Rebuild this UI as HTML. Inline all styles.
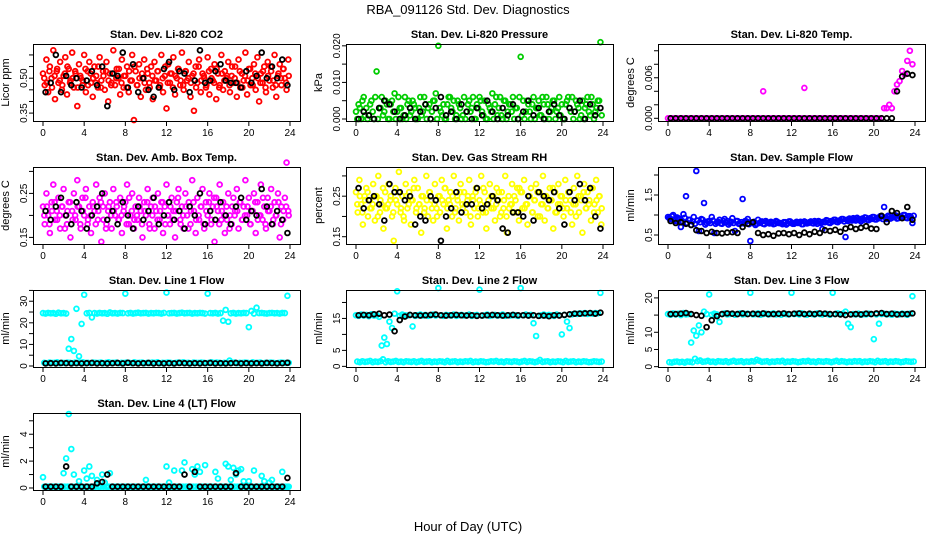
<!DOCTYPE html>
<html><head><meta charset="utf-8"><style>
body{margin:0;background:#fff;}
svg{display:block;font-family:"Liberation Sans",sans-serif;}
</style></head><body>
<svg id="chart" width="936" height="540" viewBox="0 0 936 540">
<rect width="936" height="540" fill="#fff"/>
<text x="468" y="14" text-anchor="middle" font-size="13">RBA_091126  Std. Dev. Diagnostics</text>
<text x="468" y="531" text-anchor="middle" font-size="13">Hour of Day (UTC)</text>
</svg>
<script>
const xTicks = [0,4,8,12,16,20,24];
const co2Color = [0.52,0.47,0.58,0.44,0.55,0.50,0.62,0.41,0.53,0.48,0.57,0.45,0.51,0.59,0.43,0.54,0.49,0.61,0.46,0.52,0.38,0.56,0.50,0.47,0.60,0.44,0.53,0.57,0.48,0.42,0.55,0.51,0.46,0.59,0.49,0.53,0.45,0.57,0.40,0.52,0.48,0.62,0.47,0.54,0.50,0.43,0.58,0.46,0.51,0.55,0.44,0.49,0.60,0.32,0.53,0.47,0.56,0.42,0.50,0.58,0.45,0.52,0.48,0.55,0.41,0.57,0.49,0.53,0.46,0.60,0.44,0.51,0.37,0.56,0.48,0.52,0.59,0.43,0.50,0.54,0.47,0.61,0.45,0.53,0.49,0.57,0.42,0.51,0.36,0.55,0.48,0.58,0.44,0.52,0.50,0.46,0.59,0.43,0.54,0.49,0.56,0.41,0.52,0.47,0.60,0.45,0.53,0.50,0.57,0.44,0.51,0.48,0.55,0.42,0.58,0.46,0.52,0.49,0.61,0.43,0.54,0.47,0.50,0.56,0.45,0.59,0.40,0.52,0.48,0.55,0.44,0.57,0.49,0.53,0.46,0.60,0.42,0.51,0.56,0.47,0.54,0.50,0.45,0.58];
const co2Core = [0.50,0.48,0.53,0.46,0.51,0.54,0.49,0.47,0.52,0.55,0.48,0.50,0.53,0.46,0.51,0.49,0.54,0.47,0.52,0.50,0.48,0.55,0.46,0.51,0.53,0.49,0.47,0.52,0.50,0.54,0.48,0.51,0.46,0.53,0.49,0.55,0.47,0.50,0.52,0.48,0.54,0.46,0.51,0.49,0.53,0.47,0.50,0.55,0.48,0.52,0.46,0.51,0.54,0.49,0.47,0.53,0.50,0.48,0.52,0.46,0.55,0.49,0.51,0.47,0.53,0.50,0.48,0.54,0.46,0.52,0.49,0.51,0.47,0.55,0.50,0.48,0.53,0.46,0.51,0.49,0.54,0.47,0.52,0.50,0.48,0.53,0.46,0.51,0.55,0.49,0.47,0.52,0.50,0.54,0.48,0.51];
const co2Black = [0.44,0.48,0.60,0.44,0.51,0.47,0.50,0.46,0.49,0.53,0.47,0.55,0.38,0.52,0.51,0.61,0.46,0.56,0.44,0.50,0.45,0.42,0.46,0.54,0.57,0.45,0.53,0.52,0.44,0.49,0.62,0.48,0.49,0.53,0.56,0.49,0.48,0.48,0.46,0.53,0.48,0.51,0.61,0.50,0.55,0.50,0.58,0.47];
const presColor = [0.002,0.004,0.000,0.006,0.003,0.001,0.005,0.000,0.013,0.003,0.006,0.002,0.004,0.000,0.005,0.007,0.002,0.003,0.000,0.006,0.004,0.001,0.005,0.003,0.000,0.006,0.002,0.004,0.003,0.000,0.005,0.007,0.020,0.002,0.004,0.000,0.006,0.003,0.005,0.001,0.004,0.000,0.006,0.002,0.005,0.003,0.000,0.004,0.006,0.002,0.005,0.000,0.003,0.007,0.004,0.001,0.006,0.000,0.005,0.002,0.004,0.006,0.003,0.000,0.017,0.005,0.002,0.004,0.000,0.006,0.003,0.005,0.001,0.004,0.006,0.000,0.003,0.005,0.002,0.006,0.004,0.000,0.005,0.003,0.006,0.002,0.004,0.000,0.005,0.003,0.006,0.001,0.004,0.002,0.005,0.021];
const presCore = [0.000,0.003,0.005,0.001,0.000,0.004,0.002,0.006,0.000,0.003,0.001,0.005,0.000,0.004,0.002,0.000,0.006,0.003,0.001,0.000,0.005,0.002,0.004,0.000,0.003,0.001,0.006,0.000,0.004,0.002,0.005,0.000,0.003,0.001,0.000,0.004,0.006,0.002,0.000,0.005,0.003,0.001,0.000,0.004,0.002,0.006,0.000,0.003,0.005,0.001,0.000,0.004,0.002,0.000,0.006,0.003,0.001,0.005,0.000,0.004,0.002,0.000,0.003,0.006,0.001,0.000,0.005,0.002,0.004,0.000,0.003,0.001,0.006,0.000,0.004,0.002,0.005,0.000,0.003,0.001,0.000,0.004,0.006,0.002,0.000,0.005,0.003,0.001,0.000,0.004,0.002,0.006,0.000,0.003,0.005,0.001];
const presBlack = [0.000,0.002,0.001,0.000,0.003,0.005,0.004,0.002,0.000,0.001,0.003,0.000,0.002,0.004,0.000,0.003,0.006,0.001,0.002,0.000,0.004,0.002,0.000,0.003,0.001,0.005,0.002,0.000,0.003,0.001,0.004,0.000,0.002,0.005,0.001,0.003,0.000,0.002,0.004,0.001,0.000,0.003,0.002,0.005,0.000,0.004,0.001,0.003];
const tempColor = [0,0,0,0,0,0,0,0,0,0,0,0,0,0,0,0,0,0,0,0,0,0,0,0,0,0,0,0,0,0,0,0,0,0,0,0,0,0.004,0,0,0,0,0,0,0,0,0,0,0,0,0,0,0,0.0045,0,0,0,0,0,0,0,0,0,0,0,0,0,0,0,0,0,0,0,0,0,0,0,0,0,0,0,0,0,0,0.0015,0.0015,0.002,0.0015,0.004,0.005,0.0055,0.007,0.0065,0.0085,0.010,0.008];
const tempBlack = [0,0,0,0,0,0,0,0,0,0,0,0,0,0,0,0,0,0,0,0,0,0,0,0,0,0,0,0,0,0,0,0,0,0,0,0,0,0,0,0,0,0,0,0,0.004,0.0062,0.0066,0.0064];
const ambColor = [0.22,0.18,0.25,0.20,0.16,0.23,0.27,0.19,0.21,0.24,0.17,0.22,0.26,0.20,0.18,0.23,0.15,0.21,0.25,0.19,0.28,0.22,0.17,0.24,0.20,0.26,0.18,0.22,0.16,0.23,0.21,0.27,0.19,0.24,0.14,0.22,0.25,0.18,0.21,0.23,0.17,0.26,0.20,0.22,0.19,0.24,0.16,0.21,0.23,0.27,0.18,0.20,0.25,0.17,0.22,0.19,0.24,0.21,0.15,0.23,0.20,0.26,0.18,0.22,0.24,0.17,0.21,0.25,0.19,0.23,0.16,0.22,0.27,0.20,0.18,0.24,0.21,0.15,0.23,0.26,0.19,0.22,0.17,0.25,0.20,0.23,0.18,0.28,0.21,0.16,0.24,0.19,0.22,0.26,0.17,0.23,0.20,0.25,0.18,0.22,0.14,0.24,0.21,0.27,0.19,0.23,0.16,0.22,0.25,0.20,0.18,0.24,0.21,0.26,0.17,0.23,0.19,0.22,0.28,0.20,0.24,0.18,0.21,0.25,0.16,0.23,0.20,0.27,0.19,0.22,0.17,0.24,0.21,0.26,0.18,0.23,0.20,0.25,0.15,0.22,0.19,0.24,0.32,0.21];
const ambCore = [0.20,0.22,0.18,0.21,0.23,0.19,0.20,0.22,0.17,0.21,0.23,0.19,0.20,0.22,0.18,0.21,0.24,0.19,0.20,0.22,0.18,0.21,0.23,0.19,0.17,0.22,0.20,0.21,0.23,0.19,0.20,0.22,0.18,0.24,0.21,0.19,0.20,0.22,0.18,0.21,0.23,0.17,0.20,0.22,0.19,0.21,0.23,0.18,0.20,0.22,0.19,0.21,0.24,0.18,0.20,0.22,0.17,0.21,0.23,0.19,0.20,0.22,0.18,0.21,0.23,0.19,0.24,0.22,0.18,0.21,0.20,0.19,0.17,0.22,0.20,0.21,0.23,0.19,0.20,0.22,0.18,0.21,0.23,0.19,0.20,0.24,0.18,0.21,0.22,0.19,0.20,0.23,0.18,0.21,0.22,0.20];
const ambBlack = [0.21,0.19,0.22,0.24,0.20,0.18,0.23,0.21,0.17,0.20,0.22,0.25,0.19,0.21,0.18,0.23,0.20,0.17,0.22,0.19,0.21,0.24,0.18,0.20,0.23,0.19,0.21,0.17,0.22,0.20,0.25,0.18,0.21,0.19,0.23,0.20,0.18,0.22,0.24,0.19,0.21,0.20,0.26,0.22,0.18,0.21,0.19,0.16];
const rhColor = [0.26,0.21,0.29,0.23,0.18,0.25,0.27,0.20,0.24,0.22,0.28,0.19,0.25,0.30,0.21,0.23,0.17,0.26,0.22,0.28,0.24,0.20,0.14,0.27,0.23,0.31,0.21,0.25,0.19,0.28,0.22,0.26,0.18,0.24,0.29,0.21,0.27,0.23,0.16,0.25,0.22,0.30,0.20,0.26,0.24,0.19,0.28,0.22,0.25,0.21,0.29,0.23,0.27,0.17,0.24,0.26,0.20,0.30,0.22,0.25,0.19,0.28,0.23,0.26,0.21,0.24,0.29,0.18,0.25,0.22,0.27,0.20,0.24,0.30,0.21,0.26,0.17,0.23,0.28,0.22,0.25,0.19,0.27,0.24,0.20,0.26,0.22,0.30,0.16,0.25,0.23,0.28,0.21,0.24,0.27,0.19,0.26,0.22,0.29,0.23,0.18,0.25,0.27,0.21,0.24,0.28,0.20,0.26,0.23,0.30,0.19,0.25,0.22,0.27,0.24,0.17,0.26,0.21,0.28,0.23,0.25,0.20,0.29,0.22,0.26,0.24,0.18,0.27,0.23,0.30,0.21,0.25,0.16,0.28,0.22,0.26,0.24,0.19,0.27,0.23,0.29,0.21,0.25,0.18];
const rhCore = [0.23,0.25,0.21,0.24,0.26,0.22,0.23,0.25,0.20,0.24,0.27,0.22,0.23,0.25,0.21,0.24,0.26,0.22,0.20,0.25,0.23,0.24,0.27,0.22,0.23,0.25,0.21,0.24,0.26,0.22,0.23,0.20,0.25,0.24,0.27,0.22,0.23,0.25,0.21,0.24,0.26,0.22,0.23,0.25,0.20,0.24,0.26,0.22,0.23,0.27,0.21,0.24,0.25,0.22,0.23,0.26,0.21,0.24,0.20,0.22,0.23,0.25,0.21,0.27,0.26,0.22,0.23,0.25,0.21,0.24,0.26,0.20,0.23,0.25,0.22,0.24,0.27,0.21,0.23,0.25,0.22,0.24,0.26,0.21,0.23,0.20,0.25,0.24,0.26,0.22,0.23,0.27,0.21,0.24,0.25,0.22];
const rhBlack = [0.27,0.22,0.24,0.25,0.23,0.19,0.28,0.26,0.26,0.24,0.25,0.18,0.20,0.19,0.25,0.24,0.14,0.20,0.22,0.26,0.21,0.23,0.23,0.27,0.22,0.23,0.25,0.24,0.17,0.16,0.21,0.21,0.20,0.25,0.19,0.26,0.25,0.24,0.26,0.22,0.18,0.26,0.24,0.28,0.24,0.27,0.20,0.17];
const flowColor = [0.95,0.90,1.00,0.85,0.92,0.70,1.02,1.47,0.88,0.75,0.95,2.10,0.60,0.90,1.30,0.80,0.85,0.95,0.55,0.82,0.88,0.78,0.90,0.85,0.80,0.92,0.60,0.85,0.78,1.40,0.85,0.90,0.35,0.80,0.75,0.88,0.82,0.78,0.85,0.80,0.83,0.77,0.85,0.80,0.79,0.82,0.76,0.84,0.80,0.78,0.83,0.81,0.77,0.84,0.79,0.82,0.80,0.85,0.78,0.83,0.65,0.82,0.86,0.80,0.84,0.88,0.82,0.86,0.90,0.45,0.85,0.88,0.92,0.86,0.90,0.84,0.88,0.93,0.87,0.90,0.95,0.89,0.92,0.96,1.20,0.90,0.95,0.93,0.98,0.91,0.96,0.94,1.00,0.92,0.97,0.80];
const flowCore = [0.92,0.97,0.88,0.94,0.90,0.85,0.93,0.80,0.88,0.84,0.78,0.86,0.82,0.88,0.76,0.84,0.80,0.86,0.78,0.83,0.79,0.85,0.81,0.76,0.83,0.80,0.85,0.78,0.82,0.79,0.84,0.77,0.81,0.83,0.78,0.80,0.84,0.77,0.82,0.79,0.81,0.78,0.83,0.80,0.77,0.82,0.79,0.84,0.78,0.81,0.80,0.83,0.77,0.82,0.80,0.84,0.79,0.82,0.85,0.80,0.83,0.87,0.81,0.85,0.88,0.83,0.86,0.90,0.84,0.88,0.91,0.86,0.89,0.93,0.87,0.91,0.94,0.88,0.92,0.95,0.89,0.93,0.97,0.90,0.94,0.98,0.91,0.95,0.99,0.92,0.96,1.00,0.93,0.97,0.94,0.98];
const flowBlack = [0.85,0.80,0.82,0.78,0.75,0.62,0.60,0.55,0.58,0.55,0.54,0.56,0.57,0.55,0.70,0.78,0.82,0.55,0.50,0.52,0.48,0.54,0.55,0.52,0.55,0.50,0.56,0.52,0.58,0.55,0.62,0.60,0.63,0.58,0.66,0.70,0.65,0.68,0.72,0.66,0.65,0.98,0.82,1.10,1.05,0.92,1.20,0.88];
const line1Color = [24.5,24.3,24.6,24.4,24.5,24.2,24.7,24.4,24.5,24.3,8.0,12.5,7.0,26.5,4.5,19.5,33.0,24.4,24.6,22.5,24.5,24.3,24.6,24.4,24.5,24.2,24.8,24.4,24.5,24.3,24.6,24.5,33.5,24.4,24.6,24.3,24.5,24.7,24.4,24.5,24.6,24.3,24.5,24.4,24.6,24.5,24.3,24.6,34.0,24.4,24.5,24.6,24.3,24.5,24.7,24.4,24.5,24.6,24.3,24.5,24.4,24.6,24.5,24.3,33.5,24.5,24.4,24.6,24.3,24.5,21.0,26.0,20.5,24.4,24.6,24.3,24.5,24.4,24.6,24.5,18.0,25.5,24.3,27.0,24.5,24.6,24.4,24.3,24.5,24.6,24.4,24.5,24.3,24.6,24.5,32.5];
const line1Low = [1.5,1.3,1.6,1.4,1.5,1.7,1.3,1.5,1.4,1.6,1.5,1.3,1.6,1.4,1.5,1.7,1.4,1.5,1.3,1.6,1.5,1.4,1.6,1.3,1.5,1.7,1.4,1.5,1.6,1.3,1.5,1.4,1.6,1.5,1.3,1.7,1.4,1.5,1.6,1.3,1.5,1.4,1.6,1.5,1.7,1.3,1.5,1.4,1.6,1.5,1.3,1.4,1.6,1.5,1.7,1.4,1.5,1.3,1.6,1.5,1.4,1.6,1.5,1.3,1.5,1.7,1.4,1.6,1.5,1.3,1.5,1.4,2.5,1.5,1.6,1.3,1.5,1.4,1.6,1.5,1.3,1.7,1.4,1.5,1.6,1.3,1.5,1.4,1.6,1.5,1.3,1.4,1.6,1.5,1.4,1.5];
const line1Black = [1.2,1.3,1.2,1.4,1.3,1.2,1.3,1.2,1.3,1.4,1.2,1.3,1.2,1.3,1.4,1.2,1.5,1.3,1.2,1.3,1.4,1.2,1.3,1.2,1.3,1.2,1.4,1.3,1.2,1.3,1.2,1.3,1.4,1.2,1.3,1.2,1.3,1.4,1.2,1.3,1.2,1.3,1.2,1.4,1.3,1.2,1.3,1.5];
const line2Color = [16.0,15.8,16.2,15.9,16.1,15.7,16.3,15.9,16.0,15.5,6.5,9.0,7.0,14.0,12.0,16.5,23.5,15.8,16.2,16.0,15.9,16.1,12.5,15.8,16.0,16.2,15.9,16.1,15.8,16.0,16.2,15.9,24.5,16.0,15.8,16.1,16.0,15.9,16.2,15.8,16.0,16.1,15.9,16.0,16.2,15.8,16.0,16.1,24.0,15.9,16.0,16.2,15.8,16.0,16.1,15.9,16.0,16.2,15.8,16.0,15.9,16.1,16.0,15.8,24.5,16.0,16.2,15.9,16.1,13.5,9.5,15.8,16.0,16.2,15.9,16.1,16.0,15.8,16.2,16.0,10.0,16.1,14.0,12.0,16.3,16.5,16.4,16.6,16.5,16.7,16.4,16.6,16.5,16.7,16.6,23.0];
const line2Low = [1.5,1.3,1.6,1.4,1.5,1.7,1.3,1.5,1.4,1.6,2.2,1.3,1.6,1.4,1.5,1.7,1.4,1.5,1.3,1.6,1.5,1.4,1.6,1.3,1.5,1.7,1.4,1.5,1.6,1.3,1.5,1.4,1.6,1.5,1.3,1.7,1.4,1.5,1.6,1.3,1.5,1.4,1.6,1.5,1.7,1.3,1.5,1.4,1.6,1.5,1.3,1.4,1.6,1.5,1.7,1.4,1.5,1.3,1.6,1.5,1.4,1.6,1.5,1.3,1.5,1.7,1.4,1.6,1.5,1.3,1.5,2.0,1.4,1.5,1.6,1.3,1.5,1.4,1.6,1.5,1.3,1.7,1.4,1.5,1.6,1.3,1.5,1.4,1.6,1.5,1.3,1.4,1.6,1.5,1.4,1.5];
const line2Black = [16.0,16.1,16.0,16.3,16.5,16.0,16.2,11.0,14.5,15.6,16.1,16.0,15.9,16.0,16.1,16.2,16.0,15.9,16.0,16.1,16.0,15.9,16.0,15.8,15.9,16.0,16.1,16.0,15.9,16.0,16.1,16.0,16.0,15.9,16.0,15.8,15.9,15.7,16.0,15.9,16.1,16.3,16.5,16.5,16.6,16.7,16.5,16.8];
const line3Color = [15.3,15.1,15.5,15.2,15.4,15.0,15.6,15.2,15.3,7.0,10.5,9.0,12.0,10.0,16.0,15.3,21.0,15.1,15.4,15.2,13.0,15.3,15.5,15.2,15.3,15.4,15.1,15.3,15.5,15.2,15.3,15.4,21.5,15.2,15.3,15.5,15.1,15.3,15.4,15.2,15.3,15.5,15.2,15.3,15.1,15.4,15.3,15.2,21.5,15.3,15.4,15.2,15.5,15.3,15.1,15.4,15.3,15.2,15.5,15.3,15.2,15.4,15.3,15.1,21.5,15.3,15.5,15.2,15.4,16.0,12.5,11.5,15.3,15.2,15.4,15.1,15.3,15.2,15.4,15.3,8.0,15.2,12.5,15.3,15.4,15.2,15.3,15.1,15.4,15.3,15.2,15.4,15.3,15.1,15.4,20.5];
const line3Low = [1.3,1.2,1.4,1.5,1.3,1.4,1.2,1.5,1.4,1.3,2.3,1.6,1.8,1.4,1.5,1.7,1.4,1.5,1.3,1.6,1.5,1.4,1.6,1.3,1.5,1.7,1.4,1.5,1.6,1.3,1.5,1.4,1.6,1.5,2.0,1.7,1.4,1.5,1.6,1.3,1.5,1.4,1.6,1.5,1.7,1.3,1.5,1.4,1.6,1.5,1.3,1.4,1.6,1.5,1.7,1.4,1.5,1.3,1.6,1.5,1.4,1.6,1.5,1.3,1.5,1.7,1.4,1.6,1.5,1.3,1.5,1.4,1.6,1.5,1.6,1.3,1.5,1.4,1.6,1.5,1.3,1.7,1.4,1.5,1.6,1.3,1.5,1.4,1.6,1.5,1.3,1.4,1.6,1.5,1.4,1.5];
const line3Black = [15.3,15.3,15.4,15.6,15.3,15.0,14.8,11.5,13.5,14.7,15.3,15.5,15.4,15.3,15.5,15.3,15.4,15.3,15.5,15.3,15.3,15.4,15.5,15.3,15.4,15.5,15.3,15.4,15.3,15.5,15.4,15.3,15.3,15.2,15.0,15.2,15.3,15.2,15.4,15.3,15.5,15.6,15.3,15.4,15.2,15.3,15.3,15.5];
const line4Color = [0.8,0.1,0.1,0.1,0.1,0.1,0.1,0.1,1.1,2.2,5.5,2.9,1.0,0.1,0.5,0.1,1.3,0.7,1.6,0.9,0.1,0.6,0.1,1.0,0.4,0.1,1.1,0.1,0.1,0.1,0.1,0.1,0.1,0.1,0.1,0.1,0.1,0.1,0.1,0.1,0.6,0.1,0.1,0.1,0.1,0.1,0.1,0.1,1.6,0.4,0.1,1.3,0.1,0.1,1.3,1.9,0.1,0.1,1.4,1.0,1.6,1.2,0.1,1.7,0.1,0.1,0.1,1.2,0.7,0.1,0.1,1.8,1.6,0.6,1.5,1.0,1.3,1.4,0.5,0.1,0.5,0.1,1.3,0.1,0.1,0.9,0.5,0.1,0.4,0.6,0.1,0.1,0.1,1.2,0.1,0.1];
const line4Base = [0.1,0.1,0.1,0.1,0.1,0.1,0.1,0.1,0.1,0.1,0.1,0.1,0.1,0.1,0.1,0.1,0.1,0.1,0.1,0.1,0.1,0.1,0.1,0.1,0.1,0.1,0.1,0.1,0.1,0.1,0.1,0.1,0.1,0.1,0.1,0.1,0.1,0.1,0.1,0.1,0.1,0.1,0.1,0.1,0.1,0.1,0.1,0.1,0.1,0.1,0.1,0.1,0.1,0.1,0.1,0.1,0.1,0.1,0.1,0.1,0.1,0.1,0.1,0.1,0.1,0.1,0.1,0.1,0.1,0.1,0.1,0.1,0.1,0.1,0.1,0.1,0.1,0.1,0.1,0.1,0.1,0.1,0.1,0.1,0.1,0.1,0.1,0.1,0.1,0.1,0.1,0.1,0.1,0.1,0.1,0.1];
const line4Black = [0.1,0.1,0.1,0.1,1.6,0.1,0.1,0.1,0.1,0.1,0.35,0.45,1.0,0.1,0.1,0.1,0.1,0.1,0.1,0.1,0.1,0.1,0.1,0.1,0.1,0.1,0.1,1.0,0.1,1.2,0.1,0.1,0.1,0.1,0.1,0.1,0.1,1.1,0.1,0.1,0.1,0.1,0.1,0.1,0.1,0.1,0.1,0.75];

const svg = document.getElementById('chart');
const NS = 'http://www.w3.org/2000/svg';
function mk(tag, attrs){const e=document.createElementNS(NS,tag);for(const k in attrs)e.setAttribute(k,attrs[k]);svg.appendChild(e);return e;}

const colLeft=[33,346,658], rowTop=[44,167,290,413], W=267, H=77;
const panels=[
 {id:'co2',title:'Stan. Dev. Li-820 CO2',yl:'Licor ppm',c:0,r:0,ymin:0.316,ymax:0.647,ticks:[0.35,0.40,0.45,0.50,0.55,0.60],labs:['0.35','0.50'],col:'#ff0000',series:[co2Color,co2Core],black:co2Black},
 {id:'pressure',title:'Stan. Dev. Li-820 Pressure',yl:'kPa',c:1,r:0,ymin:-0.00055,ymax:0.0205,ticks:[0,0.005,0.010,0.015,0.020],labs:['0.000','0.010','0.020'],col:'#00cc00',series:[presColor,presCore],black:presBlack},
 {id:'temp',title:'Stan. Dev. Li-820 Temp.',yl:'degrees C',c:2,r:0,ymin:-0.0004,ymax:0.011,ticks:[0,0.002,0.004,0.006,0.008,0.010],labs:['0.000','0.006'],col:'#ff00ff',series:[tempColor],black:tempBlack},
 {id:'amb-box-temp',title:'Stan. Dev. Amb. Box Temp.',yl:'degrees C',c:0,r:1,ymin:0.135,ymax:0.31,ticks:[0.15,0.20,0.25,0.30],labs:['0.15','0.25'],col:'#ff00ff',series:[ambColor,ambCore],black:ambBlack},
 {id:'gas-rh',title:'Stan. Dev. Gas Stream RH',yl:'percent',c:1,r:1,ymin:0.132,ymax:0.322,ticks:[0.15,0.20,0.25,0.30],labs:['0.15','0.25'],col:'#ffff00',series:[rhColor,rhCore],black:rhBlack},
 {id:'sample-flow',title:'Stan. Dev. Sample Flow',yl:'ml/min',c:2,r:1,ymin:0.275,ymax:2.2,ticks:[0.5,1.0,1.5,2.0],labs:['0.5','1.5'],col:'#0000ff',series:[flowColor,flowCore],black:flowBlack},
 {id:'line1',title:'Stan. Dev. Line 1 Flow',yl:'ml/min',c:0,r:2,ymin:-0.46,ymax:35.2,ticks:[0,5,10,15,20,25,30,35],labs:['0','10','20','30'],col:'#00ffff',series:[line1Color,line1Low],black:line1Black},
 {id:'line2',title:'Stan. Dev. Line 2 Flow',yl:'ml/min',c:1,r:2,ymin:-0.2,ymax:23.9,ticks:[0,5,10,15,20],labs:['0','5','15'],col:'#00ffff',series:[line2Color,line2Low],black:line2Black},
 {id:'line3',title:'Stan. Dev. Line 3 Flow',yl:'ml/min',c:2,r:2,ymin:-0.1,ymax:22.3,ticks:[0,5,10,15,20],labs:['0','5','10','20'],col:'#00ffff',series:[line3Color,line3Low],black:line3Black},
 {id:'line4',title:'Stan. Dev. Line 4 (LT) Flow',yl:'ml/min',c:0,r:3,ymin:-0.15,ymax:5.58,ticks:[0,1,2,3,4,5],labs:['0','2','4'],col:'#00ffff',series:[line4Color,line4Base],black:line4Black}
];

panels.forEach(p=>{
  const L=colLeft[p.c], T=rowTop[p.r], B=T+H;
  const xs=t=>L+10+t*(247/24);
  const ys=v=>B-(v-p.ymin)/(p.ymax-p.ymin)*H;
  const t1=mk('text',{x:L+W/2,y:T-6,'text-anchor':'middle','font-size':'11','font-weight':'bold'});
  t1.textContent=p.title;
  
  
  const yt=mk('text',{transform:`translate(${L-24},${T+H/2}) rotate(-90)`,'text-anchor':'middle','font-size':'11'});
  yt.textContent=p.yl;
  
  
  const g=mk('g',{fill:'none','stroke-width':'1.8'});
  
  
  p.series.forEach((s,k)=>{
    s.forEach((v,i)=>{
      const c=document.createElementNS(NS,'circle');
      const t=Math.min(24,(i+k*0.5)*24/s.length);
      c.setAttribute('cx',xs(t));c.setAttribute('cy',ys(v));c.setAttribute('r','2.4');c.setAttribute('stroke',p.col);
      
      
      g.appendChild(c);
    });
  });
  p.black.forEach((v,i)=>{
    const c=document.createElementNS(NS,'circle');
    c.setAttribute('cx',xs((i+0.5)*24/p.black.length));c.setAttribute('cy',ys(v));c.setAttribute('r','2.4');c.setAttribute('stroke','#000');
    
    
    g.appendChild(c);
  });
  const box=mk('rect',{x:L+0.5,y:T+0.5,width:W,height:H,fill:'none',stroke:'#000','stroke-width':'1'});
  
  
  xTicks.forEach(t=>{
    mk('line',{x1:xs(t),x2:xs(t),y1:B+1,y2:B+5,stroke:'#000'});
    const tx=mk('text',{x:xs(t),y:B+15,'text-anchor':'middle','font-size':'10'});
    tx.textContent=t;
    
    
  });
  p.ticks.forEach(v=>{
    mk('line',{x1:L-4,x2:L,y1:ys(v),y2:ys(v),stroke:'#000'});
  });
  p.labs.forEach(s=>{
    const v=parseFloat(s);
    const tx=mk('text',{transform:`translate(${L-6},${ys(v)}) rotate(-90)`,'text-anchor':'middle','font-size':'10'});
    tx.textContent=s;
    
    
  });
});
</script>
</body></html>
